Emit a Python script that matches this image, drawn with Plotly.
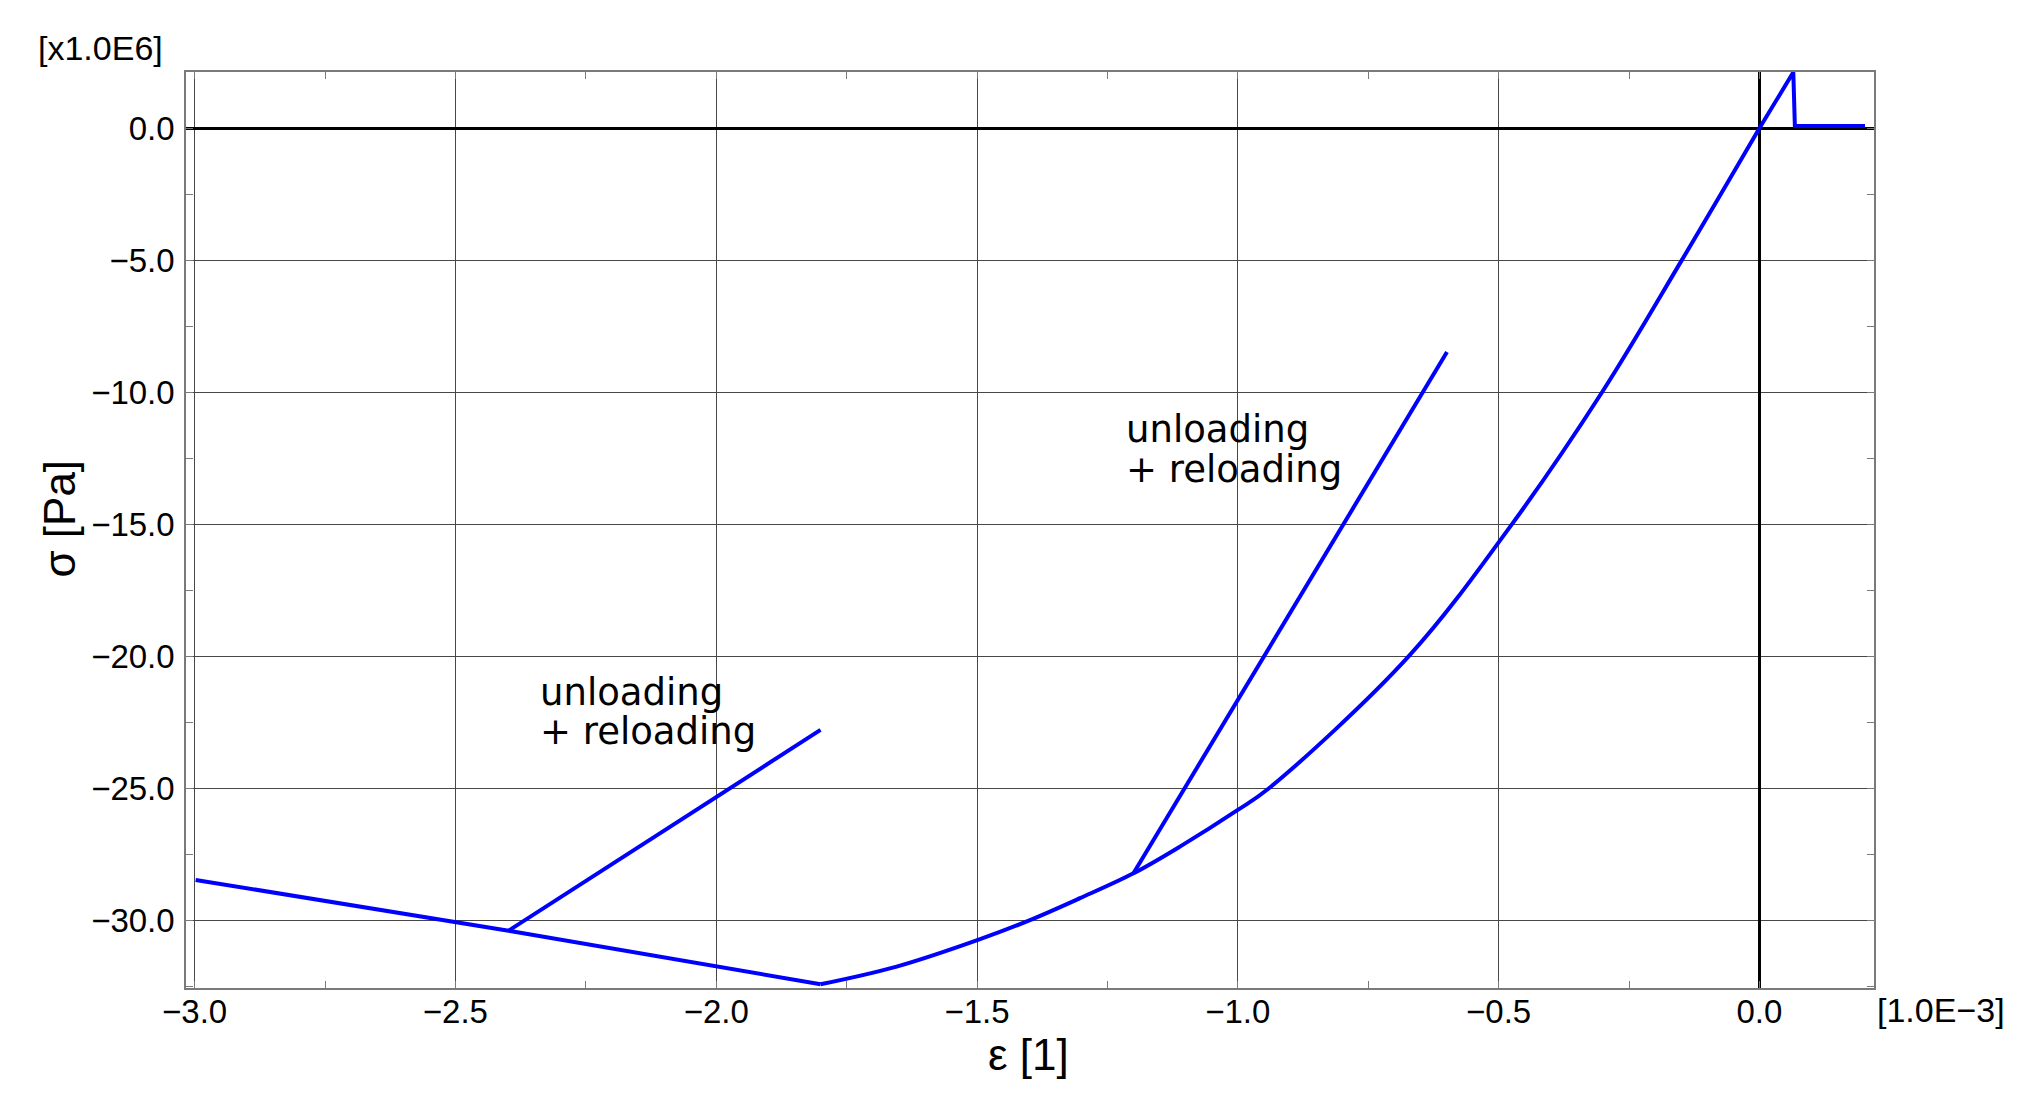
import plotly.graph_objects as go

# Strain in units of 1E-3, stress in units of 1E6 Pa
# Post-peak softening branch (compression)
soft_strain = [-2.998, -2.5, -2.398, -1.800]
soft_stress = [-28.45, -30.03, -30.37, -32.40]

# Pre-peak compression envelope (from peak back to origin)
pre_strain = [-1.800, -1.654, -1.498, -1.402, -1.3025, -1.200, -1.111, -1.000, -0.9415,
              -0.673, -0.475, -0.302, -0.149, 0.000]
pre_stress = [-32.40, -31.73, -30.72, -30.00, -29.14, -28.20, -27.19, -25.80, -25.00,
              -20.00, -15.00, -10.00, -5.00, 0.00]

# Tension branch
ten_strain = [0.000, 0.065, 0.068, 0.2025]
ten_stress = [0.00, 2.12, 0.09, 0.09]

# Unloading / reloading branches
unload1_strain = [-2.398, -1.800]
unload1_stress = [-30.37, -22.77]
unload2_strain = [-1.200, -0.599]
unload2_stress = [-28.20, -8.47]

x_ticks = [-3.0, -2.5, -2.0, -1.5, -1.0, -0.5, 0.0]
y_ticks = [0.0, -5.0, -10.0, -15.0, -20.0, -25.0, -30.0]

BLUE = "#0000ff"
LW = 4

fig = go.Figure()
for xs, ys, shape in [(soft_strain, soft_stress, "linear"),
                      (pre_strain, pre_stress, "spline"),
                      (ten_strain, ten_stress, "linear"),
                      (unload1_strain, unload1_stress, "linear"),
                      (unload2_strain, unload2_stress, "linear")]:
    fig.add_trace(go.Scatter(x=xs, y=ys, mode="lines",
                             line=dict(color=BLUE, width=LW, shape=shape),
                             showlegend=False, hoverinfo="skip"))

tickfont = dict(family="Liberation Sans, Arial, sans-serif", size=33, color="black")
gridc = "#474747"
framec = "#7a7a7a"

fig.update_xaxes(
    range=[-3.0165, 0.2197], tickvals=x_ticks, tickformat=".1f",
    showgrid=True, gridcolor=gridc, gridwidth=1,
    zeroline=True, zerolinecolor="black", zerolinewidth=3,
    showline=True, linecolor=framec, linewidth=1.5, mirror="ticks",
    ticks="", tickfont=tickfont, ticklabelstandoff=-6,
    minor=dict(dtick=0.25, tick0=0, ticks="inside", ticklen=7,
               tickcolor=framec, tickwidth=1, showgrid=False),
)
fig.update_yaxes(
    range=[-32.54, 2.13], tickvals=y_ticks, tickformat=".1f",
    showgrid=True, gridcolor=gridc, gridwidth=1,
    zeroline=True, zerolinecolor="black", zerolinewidth=3,
    showline=True, linecolor=framec, linewidth=1.5, mirror="ticks",
    ticks="", tickfont=tickfont, ticklabelstandoff=3,
    minor=dict(dtick=2.5, tick0=0, ticks="inside", ticklen=7,
               tickcolor=framec, tickwidth=1, showgrid=False),
)

ann_font = dict(family="DejaVu Sans, sans-serif", size=37, color="black")
label_font = dict(family="Liberation Sans, Arial, sans-serif", size=34, color="black")
title_font = dict(family="Liberation Sans, Arial, sans-serif", size=44, color="black")

annotations = [
    dict(x=-2.342, y=-21.35, text="unloading"),
    dict(x=-2.342, y=-22.85, text="+ reloading"),
    dict(x=-1.218, y=-11.40, text="unloading"),
    dict(x=-1.218, y=-12.90, text="+ reloading"),
]
for a in annotations:
    fig.add_annotation(x=a["x"], y=a["y"], xref="x", yref="y", text=a["text"],
                       showarrow=False, xanchor="left", yanchor="middle",
                       font=ann_font)

fig.add_annotation(x=-0.089, y=1.026, xref="paper", yref="paper", text="[x1.0E6]",
                   showarrow=False, xanchor="left", yanchor="middle", font=label_font)
fig.add_annotation(x=1.0005, y=-0.024, xref="paper", yref="paper", text="[1.0E−3]",
                   showarrow=False, xanchor="left", yanchor="middle", font=label_font)
fig.add_annotation(x=0.499, y=-0.073, xref="paper", yref="paper", text="ε [1]",
                   showarrow=False, xanchor="center", yanchor="middle", font=title_font)
fig.add_annotation(x=-0.0755, y=0.512, xref="paper", yref="paper", text="σ [Pa]",
                   textangle=-90, showarrow=False, xanchor="center", yanchor="middle",
                   font=title_font)

# the page body adds an 8px offset; compensate so the plot area lands where intended
fig.update_layout(
    width=2028, height=1100,
    margin=dict(l=178, r=162, t=64, b=120),
    plot_bgcolor="white", paper_bgcolor="white",
)

fig.write_html("out.html")
